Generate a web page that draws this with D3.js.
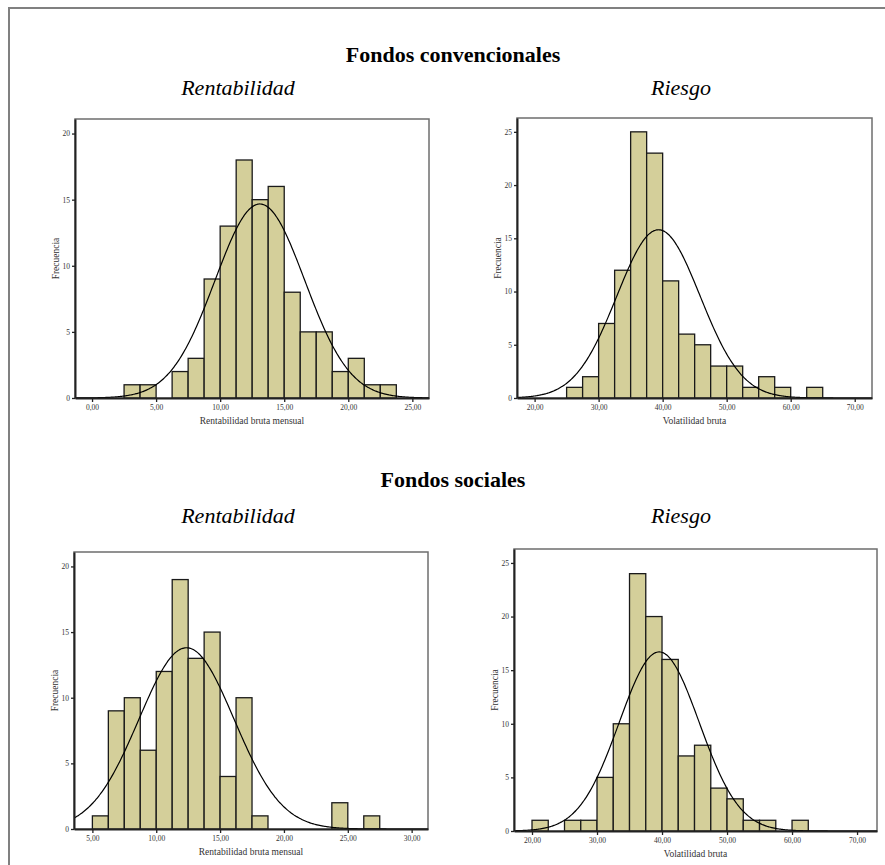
<!DOCTYPE html>
<html>
<head>
<meta charset="utf-8">
<script src="https://cdn.jsdelivr.net/npm/d3@7"></script>
<style>
	body { margin: 0; background: #fff; }
	svg text { font-family: 'Liberation Serif', 'Times New Roman', serif; }
</style>
</head>
<body>
<svg id="chart" width="885" height="865"></svg>
<script>
// frequency counts per bin
const convRentCounts = [1, 1, 0, 2, 3, 9, 13, 18, 15, 16, 8, 5, 5, 2, 3, 1, 1];
const convRiesgoCounts = [1, 2, 7, 12, 25, 23, 11, 6, 5, 3, 3, 1, 2, 1, 0, 1];
const socRentCounts = [1, 9, 10, 6, 12, 19, 13, 15, 4, 10, 1, 0, 0, 0, 0, 2, 0, 1];
const socRiesgoCounts = [1, 0, 1, 1, 5, 10, 24, 20, 16, 7, 8, 4, 3, 1, 1, 0, 1];

// first bin edge and bin width for each histogram
const binStarts = [2.5, 25, 5, 20];
const binWidths = [1.25, 2.5, 1.25, 2.5];

// fitted normal curve (mean, sd)
const curveMeans = [13.1, 39.35, 12.37, 39.57];
const curveSds = [3.5, 6.5, 3.72, 6.15];

const xTicksRent1 = [0, 5, 10, 15, 20, 25];
const xTicksRent2 = [5, 10, 15, 20, 25, 30];
const xTicksRiesgo = [20, 30, 40, 50, 60, 70];
const yTicks20 = [0, 5, 10, 15, 20];
const yTicks25 = [0, 5, 10, 15, 20, 25];

const svg = d3.select('#chart');

// outer frame (only top and left edges show)
svg.append('path')
	.attr('d', 'M9,865 V8 H885')
	.attr('fill', 'none')
	.attr('stroke', '#808080')
	.attr('stroke-width', 2);

const headings = [
	{ text: 'Fondos convencionales', x: 453, y: 62, bold: true },
	{ text: 'Rentabilidad', x: 238, y: 95 },
	{ text: 'Riesgo', x: 681, y: 95 },
	{ text: 'Fondos sociales', x: 453, y: 487, bold: true },
	{ text: 'Rentabilidad', x: 238, y: 523 },
	{ text: 'Riesgo', x: 681, y: 523 },
];

svg.selectAll('.heading')
	.data(headings)
	.join('text')
	.attr('class', 'heading')
	.attr('x', (d) => d.x)
	.attr('y', (d) => d.y)
	.attr('text-anchor', 'middle')
	.style('font-size', '22px')
	.style('font-weight', (d) => (d.bold ? 'bold' : 'normal'))
	.style('font-style', (d) => (d.bold ? 'normal' : 'italic'))
	.text((d) => d.text);

const panels = [
	{ box: [75, 119, 429, 398], xDom: [-1.33, 26.3], yMax: 21.1, counts: convRentCounts, xTicks: xTicksRent1, yTicks: yTicks20, label: 'Rentabilidad bruta mensual' },
	{ box: [517, 118, 872, 398], xDom: [17.25, 72.7], yMax: 26.3, counts: convRiesgoCounts, xTicks: xTicksRiesgo, yTicks: yTicks25, label: 'Volatilidad bruta' },
	{ box: [74, 552, 428, 829], xDom: [3.56, 31.28], yMax: 21.1, counts: socRentCounts, xTicks: xTicksRent2, yTicks: yTicks20, label: 'Rentabilidad bruta mensual' },
	{ box: [514, 549, 877, 831], xDom: [17.23, 73.07], yMax: 26.3, counts: socRiesgoCounts, xTicks: xTicksRiesgo, yTicks: yTicks25, label: 'Volatilidad bruta' },
];

const fmt = (v) => d3.format('.2f')(v).replace('.', ',');

panels.forEach((p, i) => {
	const [x0, y0, x1, y1] = p.box;
	const x = d3.scaleLinear().domain(p.xDom).range([x0, x1]);
	const y = d3.scaleLinear().domain([0, p.yMax]).range([y1, y0]);
	const g = svg.append('g');
	const clipId = 'clip' + i;

	g.append('clipPath')
		.attr('id', clipId)
		.append('rect')
		.attr('x', x0)
		.attr('y', y0)
		.attr('width', x1 - x0)
		.attr('height', y1 - y0);

	// plot frame
	g.append('rect')
		.attr('x', x0)
		.attr('y', y0)
		.attr('width', x1 - x0)
		.attr('height', y1 - y0)
		.attr('fill', '#fff')
		.attr('stroke', '#6e6e6e')
		.attr('stroke-width', 1.5);

	const bins = p.counts.map((c, k) => ({
		lo: binStarts[i] + k * binWidths[i],
		hi: binStarts[i] + (k + 1) * binWidths[i],
		count: c,
	}));

	g.selectAll('.bar')
		.data(bins.filter((b) => b.count > 0))
		.join('rect')
		.attr('class', 'bar')
		.attr('x', (b) => x(b.lo))
		.attr('y', (b) => y(b.count))
		.attr('width', (b) => x(b.hi) - x(b.lo))
		.attr('height', (b) => y(0) - y(b.count))
		.attr('fill', '#d4cf9a')
		.attr('stroke', '#1a1a1a')
		.attr('stroke-width', 1.3);

	// normal curve scaled to counts
	const n = d3.sum(p.counts);
	const m = curveMeans[i];
	const s = curveSds[i];
	const pts = d3.range(p.xDom[0], p.xDom[1], (p.xDom[1] - p.xDom[0]) / 300).concat([p.xDom[1]]);
	const line = d3.line()
		.x((v) => x(v))
		.y((v) => y((n * binWidths[i]) / (s * Math.sqrt(2 * Math.PI)) * Math.exp(-0.5 * ((v - m) / s) ** 2)))
		.curve(d3.curveBasis);

	g.append('path')
		.datum(pts)
		.attr('d', line)
		.attr('clip-path', 'url(#' + clipId + ')')
		.attr('fill', 'none')
		.attr('stroke', '#000')
		.attr('stroke-width', 1.2);

	// axes
	const xAxis = g.append('g')
		.attr('transform', 'translate(0,' + y1 + ')')
		.call(d3.axisBottom(x).tickValues(p.xTicks).tickFormat(fmt).tickSize(4).tickPadding(3).tickSizeOuter(0));
	const yAxis = g.append('g')
		.attr('transform', 'translate(' + x0 + ',0)')
		.call(d3.axisLeft(y).tickValues(p.yTicks).tickFormat(d3.format('d')).tickSize(3).tickPadding(2).tickSizeOuter(0));

	[xAxis, yAxis].forEach((ax) => {
		ax.select('.domain').attr('stroke', '#222').attr('stroke-width', 2);
		ax.selectAll('.tick line').attr('stroke', '#222').attr('stroke-width', 1.3);
		ax.selectAll('.tick text')
			.attr('fill', '#333')
			.style('font-family', "'Liberation Serif', serif")
			.style('font-size', '7.5px');
	});

	g.append('text')
		.attr('x', (x0 + x1) / 2)
		.attr('y', y1 + 26)
		.attr('text-anchor', 'middle')
		.attr('fill', '#333')
		.style('font-size', '9.5px')
		.text(p.label);

	g.append('text')
		.attr('transform', 'translate(' + (x0 - 16) + ',' + (y0 + y1) / 2 + ') rotate(-90)')
		.attr('text-anchor', 'middle')
		.attr('fill', '#333')
		.style('font-size', '9.5px')
		.text('Frecuencia');
});
</script>
</body>
</html>
